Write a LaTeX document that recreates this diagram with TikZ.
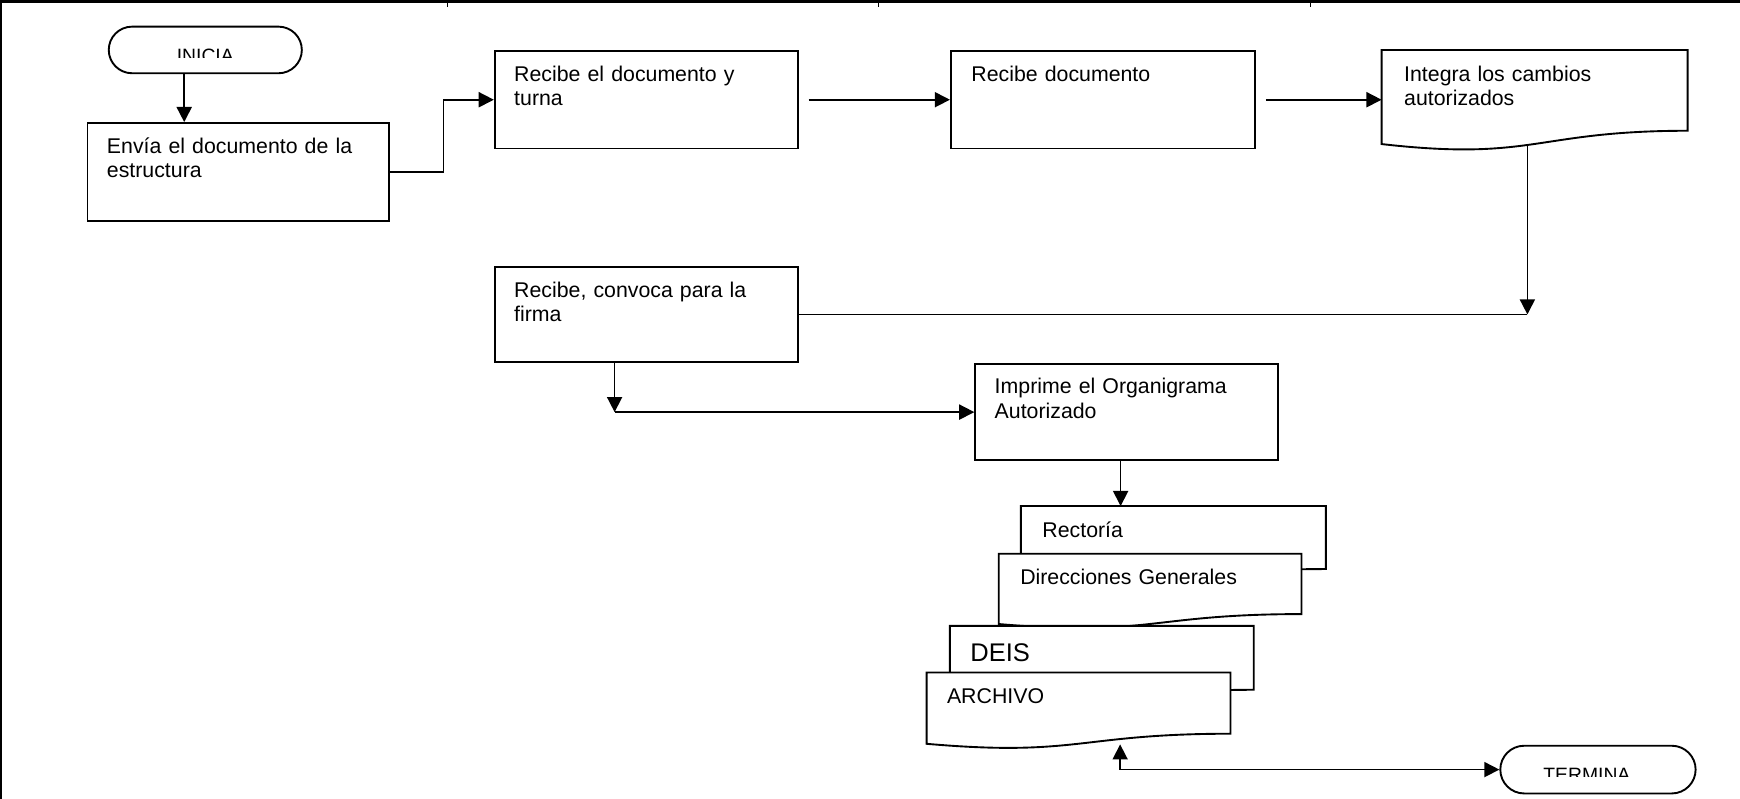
\documentclass[tikz,border=0pt]{standalone}
\usepackage{fontspec}
\setmainfont{Liberation Sans}
\usetikzlibrary{arrows.meta,shapes.misc,calc}

\tikzset{
  boxline/.style={draw=black, line width=0.85pt},
  stepbox/.style={rectangle, boxline, fill=white, anchor=north west, inner sep=0pt},
  docbox/.style={rectangle, draw=none, anchor=north west, inner sep=0pt},
  termbox/.style={rounded rectangle, boxline, fill=white, inner sep=0pt},
  boxtext/.style={anchor=base west, inner sep=0pt, text width=130pt, align=left,
    font=\fontsize{9.6pt}{11pt}\selectfont},
  bigtext/.style={boxtext, font=\fontsize{11.5pt}{13pt}\selectfont},
  termtext/.style={anchor=base, inner sep=0pt, font=\fontsize{8.7pt}{10pt}\selectfont},
  conn/.style={draw=black, line width=0.75pt},
  arr/.style={conn, -{Triangle[length=6.8pt,width=6.8pt]}},
}

% outline of a "document" symbol with a wavy lower edge, over a named node
\newcommand\docoutline[1]{%
  \draw[boxline, fill=white] (#1.north west) -- (#1.north east)
    -- ($(#1.north east)!0.802!(#1.south east)$)
    .. controls ($(#1.north)!0.802!(#1.south)$) and ($(#1.north)!1.1075!(#1.south)$)
    .. ($(#1.north west)!0.934!(#1.south west)$) -- cycle;}

\begin{document}
\begin{tikzpicture}[x=0.5pt,y=-0.5pt]
\useasboundingbox (0,0) rectangle (1568,720);

% table frame
\draw[line width=1.3pt] (0,1.3) -- (1568,1.3);
\draw[line width=0.9pt] (0.9,0) -- (0.9,720);
\foreach \tx in {403,792,1181} \draw[line width=0.5pt] (\tx,0) -- (\tx,6);

% start
\node[termbox, minimum width=87pt, minimum height=21pt] (inicia) at (185,45) {};
\begin{scope}
  \clip ([xshift=-45pt]inicia.north) rectangle ([xshift=45pt,yshift=-3.5pt]inicia.center);
  \node[termtext] (inicia-t) at ([yshift=-5.5pt]inicia.center) {INICIA};
\end{scope}

% process boxes
\node[stepbox, minimum width=136pt, minimum height=44pt] (envia) at (78,110) {};
\node[boxtext] (envia-t) at ([shift={(9pt,-14pt)}]envia.north west) {Envía el documento de la\\estructura};

\node[stepbox, minimum width=136.5pt, minimum height=44pt] (recibe) at (445,45) {};
\node[boxtext] (recibe-t) at ([shift={(9pt,-14pt)}]recibe.north west) {Recibe el documento y\\turna};

\node[stepbox, minimum width=137pt, minimum height=44pt] (recdoc) at (856,45) {};
\node[boxtext] (recdoc-t) at ([shift={(9.5pt,-14pt)}]recdoc.north west) {Recibe documento};

\node[docbox, minimum width=137.5pt, minimum height=45pt] (integra) at (1245,45) {};
\docoutline{integra}
\node[boxtext] (integra-t) at ([shift={(10pt,-14pt)}]integra.north west) {Integra los cambios\\autorizados};

\node[stepbox, minimum width=136.5pt, minimum height=42.5pt] (convoca) at (445,240) {};
\node[boxtext] (convoca-t) at ([shift={(9pt,-14pt)}]convoca.north west) {Recibe, convoca para la\\firma};

\node[stepbox, minimum width=136.5pt, minimum height=43.5pt] (imprime) at (878,327) {};
\node[boxtext] (imprime-t) at ([shift={(9pt,-14pt)}]imprime.north west) {Imprime el Organigrama\\Autorizado};

% stacked copies
\node[docbox, minimum width=137pt, minimum height=35pt] (rectoria) at (920,456) {};
\docoutline{rectoria}
\node[boxtext] (rectoria-t) at ([shift={(9.5pt,-14pt)}]rectoria.north west) {Rectoría};

\node[docbox, minimum width=136pt, minimum height=33.5pt] (direc) at (900,499) {};
\docoutline{direc}
\node[boxtext] (direc-t) at ([shift={(9.5pt,-14pt)}]direc.north west) {Direcciones Generales};

\node[docbox, minimum width=136.5pt, minimum height=35.5pt] (deis) at (856,564) {};
\docoutline{deis}
\node[bigtext] (deis-t) at ([shift={(9pt,-16pt)}]deis.north west) {DEIS};

\node[docbox, minimum width=136.5pt, minimum height=34pt] (archivo) at (835,606) {};
\docoutline{archivo}
\node[boxtext] (archivo-t) at ([shift={(9pt,-14pt)}]archivo.north west) {ARCHIVO};

% end
\node[termbox, minimum width=88pt, minimum height=21.5pt] (termina) at (1440,693.5) {};
\begin{scope}
  \clip ([xshift=-45pt]termina.north) rectangle ([xshift=45pt,yshift=-3pt]termina.center);
  \node[termtext] (termina-t) at ([xshift=-5pt,yshift=-5.25pt]termina.center) {TERMINA};
\end{scope}

% connectors
\draw[arr] ([xshift=-9.5pt]inicia.south) -- ([xshift=-9.5pt]inicia.south |- envia.north);
\draw[arr] (envia.east) -- ++(24pt,0) |- (recibe.west);
\draw[arr] ([xshift=4.5pt]recibe.east) -- (recdoc.west);
\draw[arr] ([xshift=4.5pt]recdoc.east) -- (recdoc.east -| integra.west);

\coordinate (j1) at ([xshift=-3.25pt]integra.south |- convoca.east);
\draw[arr] ([xshift=-3.25pt,yshift=2.5pt]integra.south) -- (j1);
\draw[conn] (convoca.east) -- (j1);

\coordinate (j2) at ([xshift=-14.25pt]convoca.south |- imprime.west);
\draw[arr] ([xshift=-14.25pt]convoca.south) -- (j2);
\draw[arr] (j2) -- (imprime.west);

\draw[arr] ([xshift=-2.75pt]imprime.south) -- ([xshift=-2.75pt]imprime.south |- rectoria.north);

\coordinate (j3) at ([xshift=18.75pt]archivo.south |- termina.west);
\draw[arr] (j3) -- ([xshift=18.75pt,yshift=2pt]archivo.south);
\draw[arr] (j3) -- (termina.west);
\end{tikzpicture}
\end{document}
